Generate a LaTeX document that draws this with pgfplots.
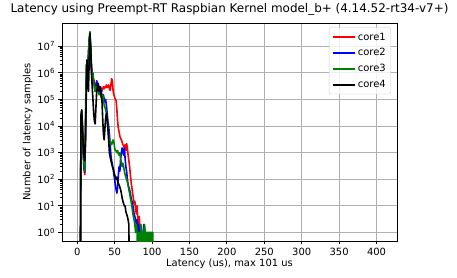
\documentclass[border=0pt]{standalone}
\usepackage{pgfplots}
\pgfplotsset{compat=1.18}
\usepackage{pgfplotstable}
\usepackage{fontspec}
\setmainfont{DejaVu Sans}
\definecolor{mplred}{rgb}{1,0,0}
\definecolor{mplblue}{rgb}{0,0,1}
\definecolor{mplgreen}{rgb}{0,0.5,0}
\definecolor{mplblack}{rgb}{0,0,0}
\definecolor{gridgray}{HTML}{B0B0B0}
\pgfplotstableread{
x c1 c2 c3 c4
0 0 0 0 0
1 0 0 0 0
2 0 0 0 0
3 0 0 0 0
4 0 0 0 0
5 15000 10000 20000 25000
6 16000 30000 40000 40000
7 5000 8000 10000 10000
8 1000 1000 1500 2000
9 300 250 400 800
10 150 180 200 500
11 3000 5000 10000 3000
12 300000 400000 2000000 100000
13 2000000 3000000 500000 3000000
14 1000000 1500000 2000000 500000
15 4000000 6000000 3000000 200000
16 15000000 20000000 20000000 3000000
17 25000000 25000000 35000000 30000000
18 5000000 8000000 6000000 10000000
19 1500000 2000000 1500000 1000000
20 800000 700000 600000 300000
21 500000 400000 1000000 100000
22 600000 500000 400000 30000
23 400000 300000 300000 15000
24 300000 200000 200000 12000
25 400000 300000 300000 50000
26 300000 500000 200000 200000
27 400000 400000 300000 300000
28 350000 300000 200000 400000
29 300000 200000 150000 200000
30 250000 250000 200000 300000
31 300000 300000 150000 200000
32 250000 200000 120000 150000
33 200000 150000 100000 100000
34 250000 120000 150000 20000
35 300000 150000 100000 5000
36 250000 100000 60000 3000
37 300000 80000 50000 8000
38 280000 100000 40000 20000
39 350000 60000 30000 30000
40 280000 30000 20000 20000
41 300000 15000 10000 8000
42 350000 10000 4000 3000
43 250000 5000 2500 1000
44 220000 2000 2000 700
45 350000 800 2500 500
46 600000 500 2000 400
47 500000 350 2500 300
48 200000 250 3000 250
49 150000 150 2500 200
50 120000 100 1500 150
51 100000 60 1200 120
52 90000 40 1200 100
53 40000 30 1000 120
54 15000 50 1200 80
55 8000 150 900 70
56 6000 300 800 60
57 4000 200 1000 50
58 3500 600 600 40
59 3000 1000 400 30
60 2500 1500 300 20
61 2000 1200 400 15
62 1800 800 300 12
63 1500 1500 200 10
64 2000 600 150 10
65 1200 300 120 6
66 2200 200 100 5
67 1500 100 80 4
68 800 60 60 3
69 500 50 40 2
70 300 40 30 0
71 150 30 20 0
72 80 20 15 0
73 50 15 10 0
74 30 12 6 0
75 20 8 4 0
76 12 5 3 0
77 15 4 2 0
78 8 3 1 0
79 5 2 2 0
80 10 3 1 0
81 3 1 0 0
82 2 2 1 0
83 4 1 1 0
84 1 0 0 0
85 2 1 2 0
86 0 1 1 0
87 1 0 1 0
88 0 1 0 0
89 0 2 1 0
90 0 1 2 0
91 0 0 1 0
92 0 1 0 0
93 0 0 1 0
94 0 1 1 0
95 0 1 0 0
96 0 0 1 0
97 0 1 1 0
98 0 1 0 0
99 0 0 1 0
100 0 1 1 0
101 0 0 1 0
102 0 0 0 0
}\lat
\begin{document}
\fontsize{10}{12}\selectfont
\begin{tikzpicture}
\begin{axis}[
  scale only axis,
  width=335bp, height=218bp,
  ymode=log,
  xmin=-20.35, xmax=427.35,
  ymin=0.48, ymax=7.4e7,
  xtick={0,50,...,400},
  ytick={1,10,100,1000,10000,100000,1000000,10000000},
  yticklabels={10\textsuperscript{0},10\textsuperscript{1},10\textsuperscript{2},10\textsuperscript{3},10\textsuperscript{4},10\textsuperscript{5},10\textsuperscript{6},10\textsuperscript{7}},
  /pgf/number format/assume math mode=true,
  tick pos=left,
  tick align=outside,
  major tick length=3.5bp,
  minor tick length=2bp,
  every tick/.style={black, line width=0.8bp},
  axis line style={line width=0.8bp},
  grid=major,
  major grid style={gridgray, line width=0.8bp},
  ticklabel style={font=\fontsize{10}{12}\selectfont},
  title={Latency using Preempt-RT Raspbian Kernel model\_b+ (4.14.52-rt34-v7+)},
  title style={font=\fontsize{12}{14}\selectfont, yshift=-2bp},
  xlabel={Latency (us), max 101 us},
  ylabel={Number of latency samples},
  label style={font=\fontsize{10}{12}\selectfont},
  xlabel style={yshift=3bp},
  ylabel style={yshift=-2bp},
  legend style={at={(0.982,0.979)}, anchor=north east, draw=black!20, rounded corners=2bp, fill=white, fill opacity=0.8, text opacity=1, font=\fontsize{10}{12}\selectfont, row sep=3bp, inner xsep=3bp, inner ysep=3bp},
  legend cell align=left,
  legend image code/.code={\draw[line width=1.8bp,#1] (0bp,0bp) -- (22bp,0bp);},
]
\addplot[draw=mplred, line width=1.6bp, line join=round] table[x=x, y expr={max(\thisrow{c1},0.001)}] {\lat};
\addlegendentry{core1}
\addplot[draw=mplblue, line width=1.6bp, line join=round] table[x=x, y expr={max(\thisrow{c2},0.001)}] {\lat};
\addlegendentry{core2}
\addplot[draw=mplgreen, line width=1.6bp, line join=round] table[x=x, y expr={max(\thisrow{c3},0.001)}] {\lat};
\addlegendentry{core3}
\addplot[draw=mplblack, line width=1.6bp, line join=round] table[x=x, y expr={max(\thisrow{c4},0.001)}] {\lat};
\addlegendentry{core4}
\end{axis}
\pgfresetboundingbox
\useasboundingbox ([xshift=-62bp,yshift=-37bp]current axis.south west) rectangle ([xshift=60bp,yshift=23bp]current axis.north east);
\end{tikzpicture}
\end{document}
